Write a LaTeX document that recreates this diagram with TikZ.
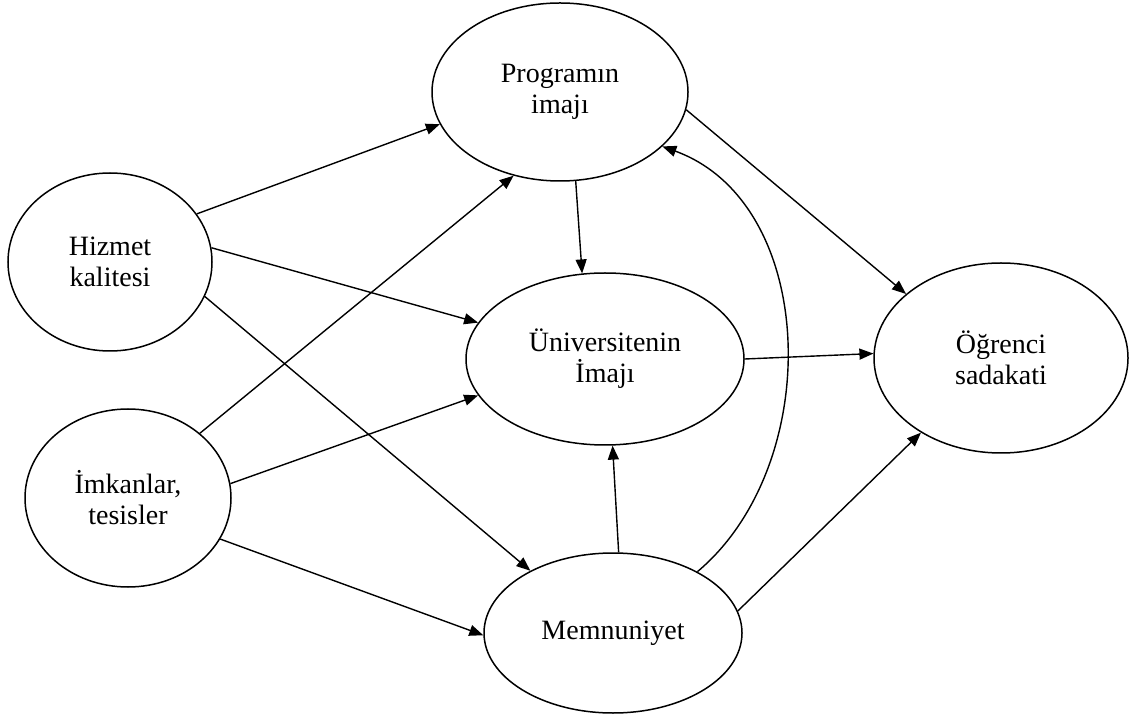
\documentclass[tikz,border=0pt]{standalone}
\usepackage{fontspec}
\setmainfont{Liberation Serif}
\usetikzlibrary{shapes.geometric,arrows.meta}
\begin{document}
\begin{tikzpicture}[x=0.5pt,y=-0.5pt,line width=0.7pt,
  oval/.style={draw,ellipse,line width=0.75pt,inner sep=0pt,align=center,
    font=\fontsize{14}{15.5}\selectfont},
  >={Triangle[length=7pt,width=5.5pt]}]
\useasboundingbox (0,0) rectangle (1134,715);

\node[oval,minimum width=128pt,minimum height=89pt] (prog) at (560,92) {Programın\\imajı};
\node[oval,minimum width=102pt,minimum height=89pt] (hiz) at (110,262) {Hizmet\\kalitesi};
\node[oval,minimum width=103pt,minimum height=89pt] (imk) at (128,498) {İmkanlar,\\tesisler};
\node[oval,minimum width=139pt,minimum height=86pt] (univ) at (605,359) {Üniversitenin\\İmajı};
\node[oval,minimum width=129pt,minimum height=80pt] (memn) at (613,633) {Memnuniyet};
\node[oval,minimum width=127pt,minimum height=95pt] (ogr) at (1001,358) {Öğrenci\\sadakati};

\draw[->] (hiz.29) -- (prog.195);
\draw[->] (hiz.8) -- (univ.164);
\draw[->] (hiz.-20) -- (memn.143);
\draw[->] (imk.42) -- (prog.241);
\draw[->] (imk.8) -- (univ.196);
\draw[->] (imk.-24) -- (memn.181);
\draw[->] (prog.280) -- (univ.105);
\draw[->] (prog.-8) -- (ogr.146);
\draw[->] (univ.0) -- (ogr.178);
\draw[->] (memn.86) -- (univ.-85);
\draw[->] (memn.10) -- (ogr.223);
\draw[->] (memn.36) to[out=40,in=-20] (prog.-28);
\end{tikzpicture}
\end{document}
